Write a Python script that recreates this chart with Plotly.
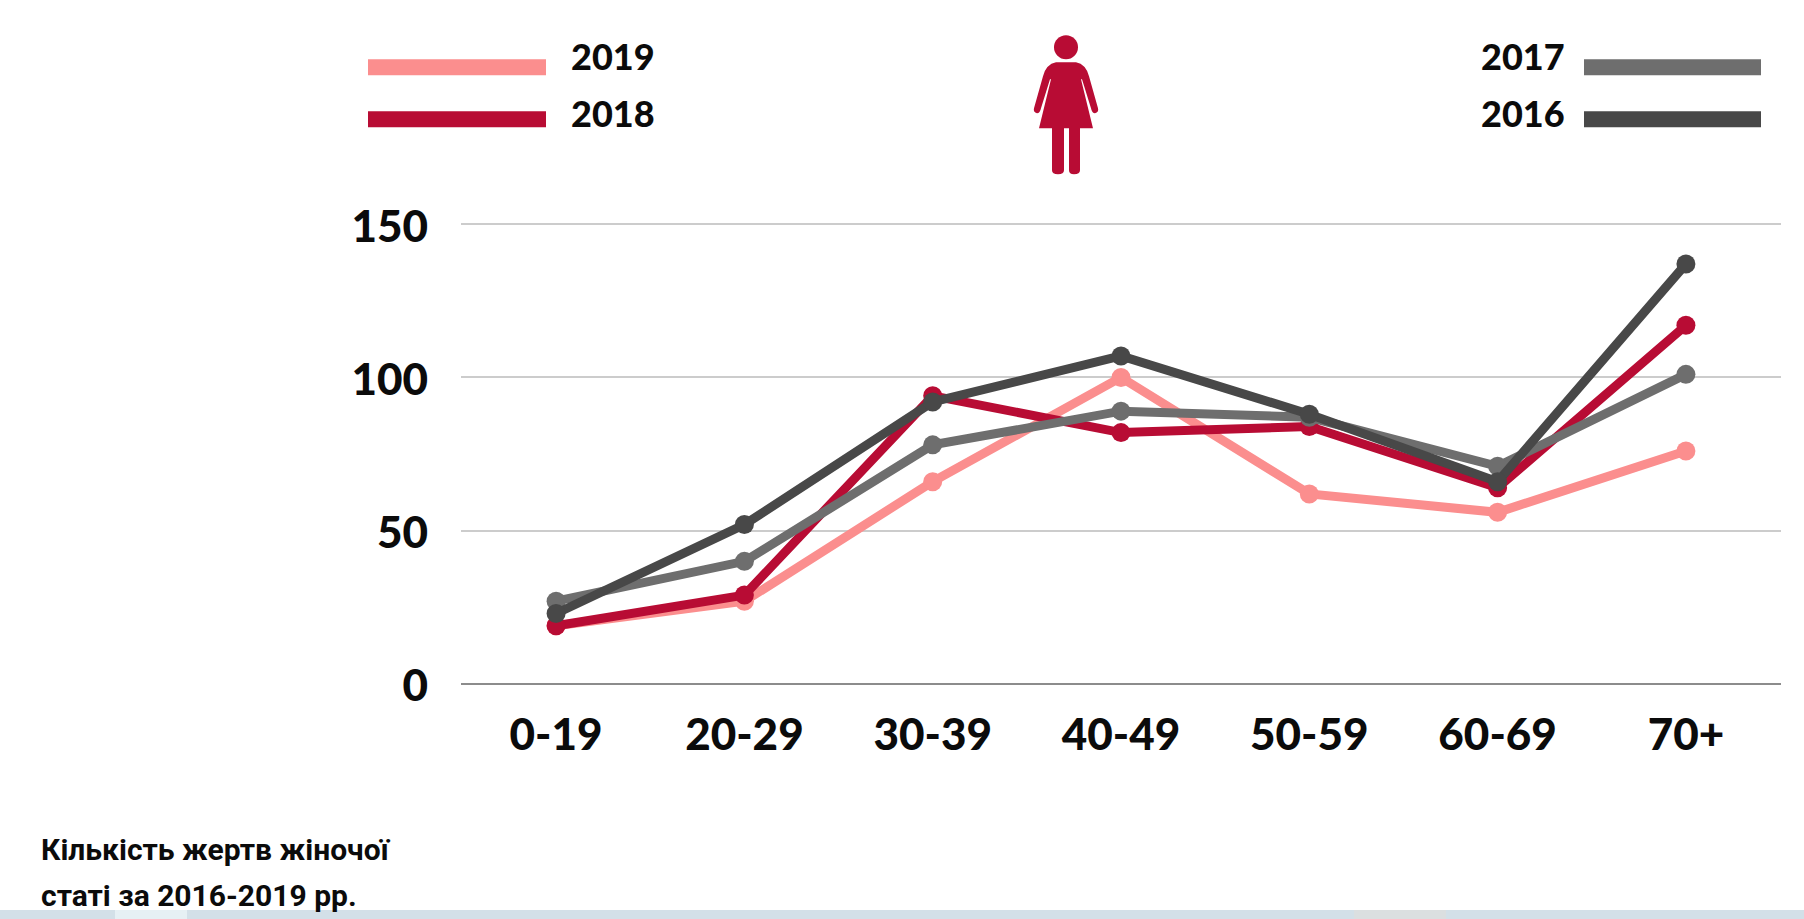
import re
import plotly.graph_objects as go

age_groups = ["0-19", "20-29", "30-39", "40-49", "50-59", "60-69", "70+"]
v2019 = [19, 27, 66, 100, 62, 56, 76]
v2018 = [19, 29, 94, 82, 84, 64, 117]
v2017 = [27, 40, 78, 89, 87, 71, 101]
v2016 = [23, 52, 92, 107, 88, 66, 137]
y_ticks = [0, 50, 100, 150]
colors = {"2019": "#fb8e8e", "2018": "#b80c34", "2017": "#6e6e6e", "2016": "#484848"}
title_lines = ["Кількість жертв жіночої", "статі за 2016-2019 рр."]

W, H = 1804, 919
Y_TOP = 152
L, R, B = 461, 1781, 684
T = B - Y_TOP * (460 / 150)
INK = "#0b0b0b"

def xp(x):
    return (x - L) / (R - L)

def yp(y):
    return (B - y) / (B - T)

def path(d):
    def sub(m):
        return f"{xp(float(m.group(1))):.5f},{yp(float(m.group(2))):.5f}"
    return re.sub(r"(-?[\d.]+),(-?[\d.]+)", sub, d)

def rect(x0, y0, x1, y1, color):
    return dict(type="rect", xref="paper", yref="paper", x0=xp(x0), x1=xp(x1), y0=yp(y0), y1=yp(y1),
                fillcolor=color, line_width=0, layer="below")

fig = go.Figure()
for name, vals in [("2019", v2019), ("2018", v2018), ("2017", v2017), ("2016", v2016)]:
    fig.add_trace(go.Scatter(x=age_groups, y=vals, name=name, mode="lines+markers",
                             line=dict(color=colors[name], width=9),
                             marker=dict(color=colors[name], size=19), cliponaxis=False,
                             showlegend=False))

icon = ("M1056,62 L1076,62 Q1086,64 1089,76 L1098,108 Q1099,112 1095,113 Q1092,113 1091,108 L1082,79 "
        "L1081,79 L1093,128 L1080,128 L1080,170 Q1080,174 1074,174 Q1069,174 1069,170 L1069,128 "
        "L1064,128 L1064,170 Q1064,174 1058,174 Q1052,174 1052,170 L1052,128 L1039,128 L1051,79 "
        "L1050,79 L1041,108 Q1040,113 1037,113 Q1033,112 1034,108 L1043,76 Q1046,64 1056,62 Z")

shapes = [
    rect(368, 59, 546, 75, colors["2019"]),
    rect(368, 111, 546, 127, colors["2018"]),
    rect(1584, 59, 1761, 75, colors["2017"]),
    rect(1584, 111, 1761, 127, colors["2016"]),
    rect(0, 910, W, H, "#d3e0e8"),
    rect(115, 910, 187, H, "#e6f0f4"),
    rect(1354, 910, 1446, H, "#dbdfe0"),
    dict(type="path", xref="paper", yref="paper", path=path(icon), fillcolor=colors["2018"], line_width=0),
    dict(type="circle", xref="paper", yref="paper", x0=xp(1054), x1=xp(1078), y0=yp(59), y1=yp(35),
         fillcolor=colors["2018"], line_width=0),
]

def label(text, x, y, anchor, size, family="Lato", weight=900):
    return dict(text=text, xref="paper", yref="paper", x=xp(x), y=yp(y), xanchor=anchor, yanchor="middle",
                showarrow=False, align="left",
                font=dict(family=family, size=size, color=INK, weight=weight))

annotations = [
    label("2019", 569, 56, "left", 36),
    label("2018", 569, 113, "left", 36),
    label("2017", 1567, 56, "right", 36),
    label("2016", 1567, 113, "right", 36),
    label(title_lines[0], 39, 850, "left", 30, "Roboto", 700),
    label(title_lines[1], 39, 896, "left", 30, "Roboto", 700),
]

fig.update_layout(
    width=W, height=H, margin=dict(l=L, r=W - R, t=T, b=H - B, pad=0, autoexpand=False),
    paper_bgcolor="#ffffff", plot_bgcolor="#ffffff", shapes=shapes, annotations=annotations, showlegend=False,
    xaxis=dict(type="category", categoryorder="array", categoryarray=age_groups, range=[-0.505, 6.505],
               showgrid=False, zeroline=False, showline=False, ticks="",
               ticklabelstandoff=21, tickfont=dict(family="Lato", size=44, color=INK, weight=900)),
    yaxis=dict(range=[0, Y_TOP], tickvals=y_ticks, showgrid=True, gridcolor="#cccccc", gridwidth=2,
               zeroline=True, zerolinecolor="#8c8c8c", zerolinewidth=2, showline=False, ticks="",
               ticklabelstandoff=32, ticklabelshift=2, tickfont=dict(family="Lato", size=44, color=INK, weight=900)),
)

fig.write_html("out.html", config=dict(displayModeBar=False),
               post_script="document.body.style.margin='0';document.documentElement.style.overflow='hidden';")
